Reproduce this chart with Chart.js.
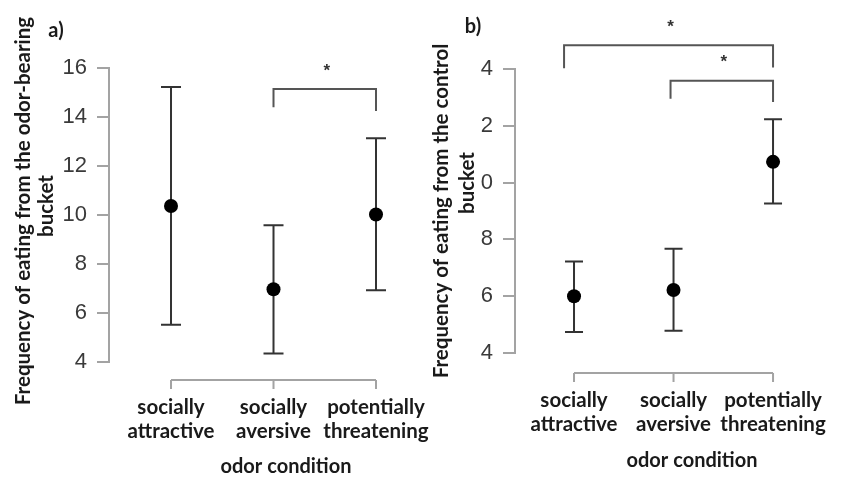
<!DOCTYPE html>
<html>
<head>
<meta charset="utf-8">
<script src="https://cdn.jsdelivr.net/npm/chart.js@4/dist/chart.umd.min.js"></script>
<style>
  html, body { margin: 0; padding: 0; background: #fff; }
  #wrap { position: relative; width: 860px; height: 478px; overflow: hidden; }
  canvas { position: absolute; top: 0; }
  #ca { left: 0; }
  #cb { left: 430px; }
</style>
</head>
<body>
<div id="wrap">
  <canvas id="ca" width="430" height="478"></canvas>
  <canvas id="cb" width="430" height="478"></canvas>
</div>
<script>
// ---- data ----
const categories = [['socially', 'attractive'], ['socially', 'aversive'], ['potentially', 'threatening']];

// panel a: odor-bearing bucket
const meansA = [10.37, 6.97, 10.02];
const lowerA = [5.52, 4.35, 6.93];
const upperA = [15.22, 9.58, 13.13];
const yTickLabelsA = ['4', '6', '8', '10', '12', '14', '16'];
const bracketsA = [{ from: 1, to: 2, y: 15.14, legL: 14.40, legR: 14.24, mark: '*' }];

// panel b: control bucket
const meansB = [6.00, 6.22, 10.73];
const lowerB = [4.74, 4.78, 9.26];
const upperB = [7.22, 7.67, 12.23];
const yTickLabelsB = ['4', '6', '8', '0', '2', '4'];
const bracketsB = [
  { from: -0.1, to: 2, y: 14.84, legL: 14.03, legR: 14.05, mark: '*' },
  { from: 0.97, to: 2, y: 13.59, legL: 12.95, legR: 12.84, mark: '*' }
];

const titleA = ['Frequency of eating from the odor-bearing', 'bucket'];
const titleB = ['Frequency of eating from the control', 'bucket'];
const xTitle = 'odor condition';

// ---- drawing helpers ----
const AXIS_GRAY = '#a3a3a3';
const LABEL_FONT = 'Lato, "Open Sans", sans-serif';

const decor = {
  id: 'decor',
  beforeDatasetsDraw(chart, args, o) {
    const ctx = chart.ctx, xs = chart.scales.x, ys = chart.scales.y;
    ctx.save();
    ctx.strokeStyle = '#333';
    ctx.lineWidth = 2;
    o.lower.forEach((lo, i) => {
      const x = xs.getPixelForValue(i);
      const y1 = ys.getPixelForValue(lo);
      const y2 = ys.getPixelForValue(o.upper[i]);
      ctx.beginPath();
      ctx.moveTo(x, y1); ctx.lineTo(x, y2);
      ctx.moveTo(x - o.cap, y1); ctx.lineTo(x + o.cap, y1);
      ctx.moveTo(x - o.cap, y2); ctx.lineTo(x + o.cap, y2);
      ctx.stroke();
    });
    ctx.restore();
  },
  afterDraw(chart, args, o) {
    const ctx = chart.ctx, xs = chart.scales.x, ys = chart.scales.y;
    const ca = chart.chartArea;
    ctx.save();
    // detached x axis
    const n = o.lower.length;
    const ya = ca.bottom + o.axisGap;
    ctx.strokeStyle = AXIS_GRAY;
    ctx.lineWidth = 2;
    ctx.beginPath();
    ctx.moveTo(xs.getPixelForValue(0), ya);
    ctx.lineTo(xs.getPixelForValue(n - 1), ya);
    for (let i = 0; i < n; i++) {
      const x = xs.getPixelForValue(i);
      ctx.moveTo(x, ya); ctx.lineTo(x, ya + 9);
    }
    ctx.stroke();
    // significance brackets
    ctx.strokeStyle = '#555';
    ctx.lineWidth = 2;
    ctx.fillStyle = '#333';
    ctx.font = 'bold 17px "Liberation Sans", Arial, sans-serif';
    ctx.textAlign = 'center';
    ctx.textBaseline = 'middle';
    o.brackets.forEach(b => {
      const x1 = xs.getPixelForValue(b.from), x2 = xs.getPixelForValue(b.to);
      const y = ys.getPixelForValue(b.y);
      ctx.beginPath();
      ctx.moveTo(x1, ys.getPixelForValue(b.legL));
      ctx.lineTo(x1, y);
      ctx.lineTo(x2, y);
      ctx.lineTo(x2, ys.getPixelForValue(b.legR));
      ctx.stroke();
      ctx.fillText(b.mark, (x1 + x2) / 2 + 2, y - 18);
    });
    // titles
    ctx.fillStyle = '#1a1a1a';
    ctx.font = 'bold 20.5px ' + LABEL_FONT;
    o.yTitle.forEach((t, i) => {
      ctx.save();
      ctx.translate(o.yTitlePos[i][0], o.yTitlePos[i][1]);
      ctx.rotate(-Math.PI / 2);
      ctx.fillText(t, 0, 0);
      ctx.restore();
    });
    ctx.font = 'bold 20px ' + LABEL_FONT;
    ctx.fillText(xTitle, o.xTitlePos[0], o.xTitlePos[1]);
    ctx.font = 'bold 20px ' + LABEL_FONT;
    ctx.fillText(o.panel, o.panelPos[0], o.panelPos[1]);
    ctx.restore();
  }
};

function makeChart(id, cfg) {
  return new Chart(document.getElementById(id), {
    type: 'scatter',
    data: {
      datasets: [{
        data: cfg.means.map((m, i) => ({ x: i, y: m })),
        pointRadius: 7, pointHoverRadius: 7,
        backgroundColor: '#000', borderWidth: 0
      }]
    },
    options: {
      responsive: false,
      animation: false,
      events: [],
      layout: { padding: { top: cfg.top, right: cfg.right, bottom: 0, left: 0 } },
      plugins: {
        legend: { display: false },
        tooltip: { enabled: false },
        decor: {
          lower: cfg.lower, upper: cfg.upper, cap: cfg.cap,
          brackets: cfg.brackets, axisGap: cfg.axisGap,
          yTitle: cfg.yTitle, yTitlePos: cfg.yTitlePos,
          xTitlePos: cfg.xTitlePos, panel: cfg.panel, panelPos: cfg.panelPos
        }
      },
      scales: {
        x: {
          type: 'linear',
          min: cfg.xmin, max: cfg.xmax,
          afterBuildTicks: s => { s.ticks = categories.map((c, i) => ({ value: i })); },
          afterFit: s => { s.height = cfg.xHeight; s.paddingLeft = 0; s.paddingRight = 0; },
          grid: { display: false, drawTicks: false },
          border: { display: false },
          ticks: {
            autoSkip: false, maxRotation: 0, minRotation: 0,
            padding: cfg.xPad, color: '#1a1a1a',
            font: { family: LABEL_FONT, weight: 'bold', size: 20.5, lineHeight: 1.17 },
            callback: v => categories[Math.round(v)]
          }
        },
        y: {
          min: 4, max: cfg.ymax,
          afterFit: s => { s.width = cfg.yWidth; },
          afterBuildTicks: s => { s.ticks = cfg.yLabels.map((l, i) => ({ value: 4 + 2 * i })); },
          ticks: {
            padding: 10, color: '#3a3a3a',
            font: { family: '"Liberation Sans", Arial, sans-serif', size: 22 },
            callback: (v, i) => cfg.yLabels[i]
          },
          grid: { drawOnChartArea: false, drawTicks: true, tickLength: 12, color: AXIS_GRAY, lineWidth: 2 },
          border: { display: true, color: AXIS_GRAY, width: 2 }
        }
      }
    },
    plugins: [decor]
  });
}

makeChart('ca', {
  means: meansA, lower: lowerA, upper: upperA, brackets: bracketsA,
  yLabels: yTickLabelsA, ymax: 16,
  top: 68, right: 13, yWidth: 109, xHeight: 116, xPad: 33,
  xmin: -0.605, xmax: 2.4, cap: 10, axisGap: 18,
  yTitle: titleA, yTitlePos: [[23, 211], [46, 206]],
  xTitlePos: [286, 467], panel: 'a)', panelPos: [56, 31]
});

makeChart('cb', {
  means: meansB, lower: lowerB, upper: upperB, brackets: bracketsB,
  yLabels: yTickLabelsB, ymax: 14,
  top: 69, right: 17, yWidth: 85, xHeight: 125, xPad: 35,
  xmin: -0.593, xmax: 2.703, cap: 9, axisGap: 20,
  yTitle: titleB, yTitlePos: [[11, 211], [37, 183]],
  xTitlePos: [262, 461], panel: 'b)', panelPos: [43, 27]
});
</script>
</body>
</html>
